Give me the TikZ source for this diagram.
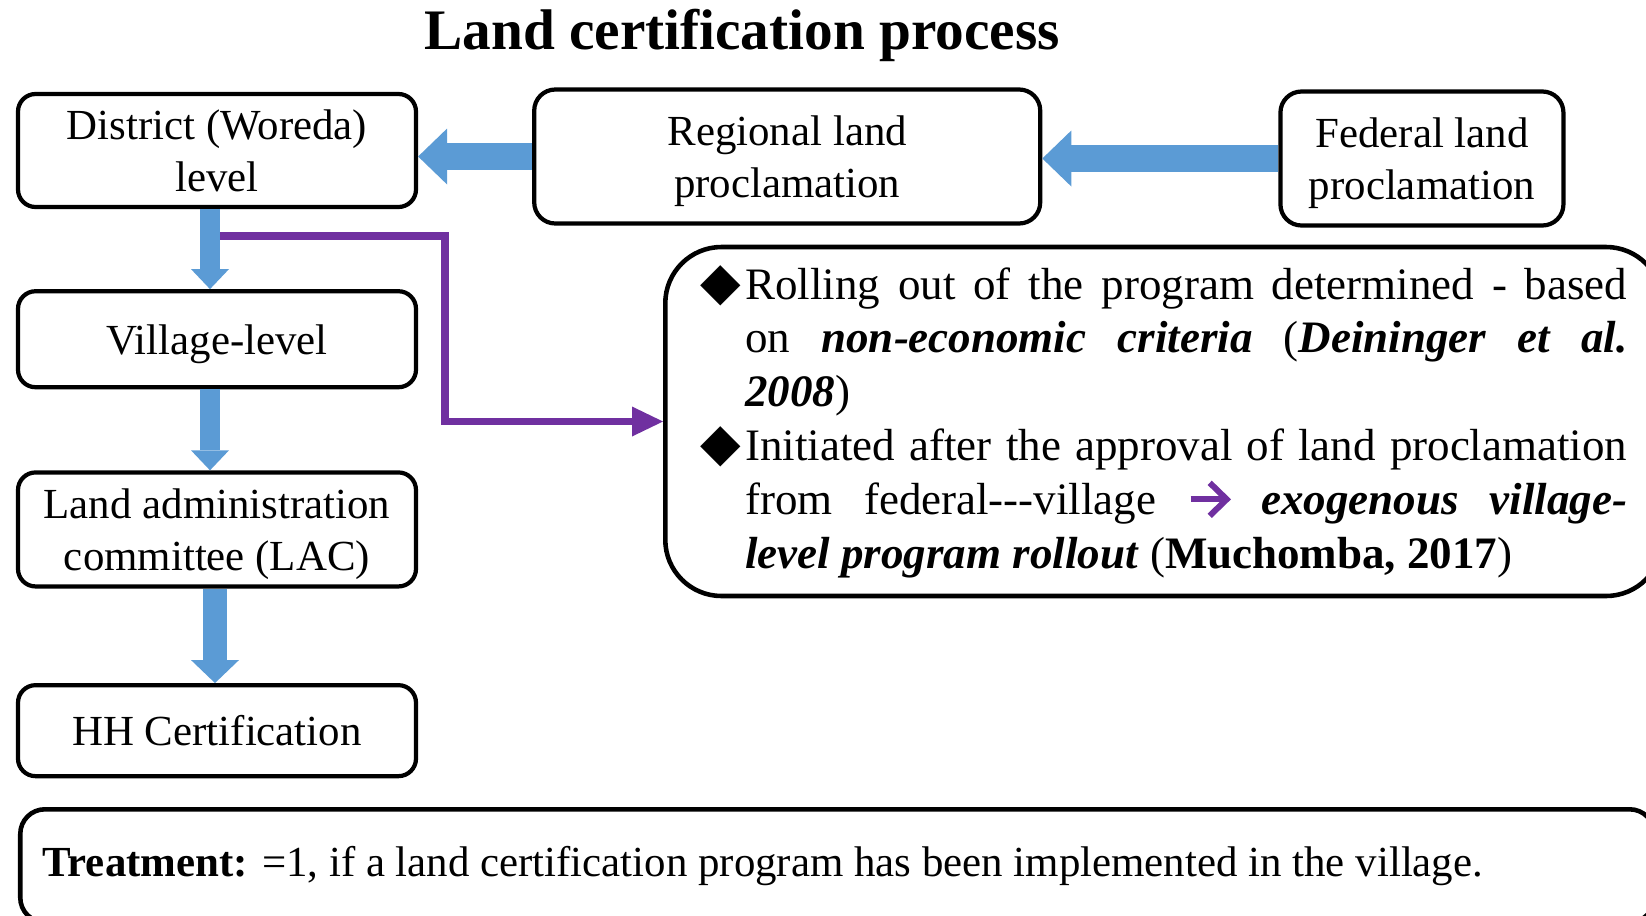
\documentclass[tikz,border=0pt]{standalone}
\usepackage{fontspec}
\setmainfont{Liberation Serif}
\newfontfamily\symfont{DejaVu Sans}
\usepackage{tikz}
\usetikzlibrary{arrows.meta,positioning,calc}
\usepackage{xcolor}
\definecolor{flowblue}{HTML}{5B9BD5}
\definecolor{linkpurple}{HTML}{7030A0}
\newcommand{\bulletmark}{{\symfont\fontsize{15}{15}\selectfont ◆}}
\newcommand{\pointsto}{\tikz[baseline={(0,-0.15)}, sharp corners]{%
  \draw[linkpurple, line width=0.06cm] (0,0) -- (0.35,0);
  \draw[linkpurple, line width=0.06cm, line join=miter] (0.19,0.165) -- (0.36,0) -- (0.19,-0.165);}}

\begin{document}
\begin{tikzpicture}[
  level/.style={rectangle, rounded corners=5pt, draw=black, line width=1.2pt,
                minimum width=3.98cm, inner sep=0pt, align=center, text depth=0pt,
                font=\fontsize{12.2}{14.8}\selectfont},
  procl/.style={level, rounded corners=6pt, minimum height=1.34cm},
  panel/.style={rectangle, draw=black, line width=1.3pt},
  flow/.style n args={3}{line width=#1, flowblue,
                -{Triangle[length=#2, width=#3, line width=0pt]}},
  link/.style={line width=0.075cm, linkpurple,
               -{Triangle[length=0.31cm, width=0.30cm, line width=0pt]}},
]
  \path[use as bounding box, clip] (0,0) rectangle (16.46,-9.15);

  \node[font=\bfseries\fontsize{16.3}{19}\selectfont, anchor=base] (title) at (7.42,-0.49) {Land certification process};

  % left column
  \node[level, minimum height=1.13cm] (dist) at (2.17,-1.505) {District (Woreda)\\level};
  \node[level, minimum height=0.96cm, below=0.80cm of dist] (vil) {Village-level};
  \node[level, minimum height=1.14cm, below=0.81cm of vil] (lac) {Land administration\\committee (LAC)};
  \node[level, minimum height=0.91cm, below=0.945cm of lac] (hh) {HH Certification};

  % top row
  \node[procl, minimum width=5.06cm, right=1.14cm of dist, yshift=-0.06cm] (reg) {Regional land\\proclamation};
  \node[procl, minimum width=2.83cm, right=2.36cm of reg, yshift=-0.02cm] (fed) {Federal land\\proclamation};

  \draw[flow={0.27cm}{0.29cm}{0.56cm}] (reg.west) -- (reg.west -| dist.east);
  \draw[flow={0.27cm}{0.29cm}{0.56cm}] (fed.west) -- (fed.west -| reg.east);
  \draw[flow={0.20cm}{0.20cm}{0.38cm}] ([xshift=-0.07cm]dist.south) -- ([xshift=-0.07cm]vil.north);
  \draw[flow={0.20cm}{0.20cm}{0.38cm}] ([xshift=-0.07cm]vil.south) -- ([xshift=-0.07cm]lac.north);
  \draw[flow={0.24cm}{0.23cm}{0.48cm}] ([xshift=-0.02cm]lac.south) -- ([xshift=-0.02cm]hh.north);

  % notes
  \node[panel, rounded corners=16pt, anchor=west, text width=9.27cm, inner xsep=0.35cm,
        minimum height=3.49cm, align=justify, font=\fontsize{12.8}{15.3}\selectfont] (info) at (6.63,-4.215)
    {\noindent\hangindent=0.45cm\hangafter=1\makebox[0.45cm][l]{\bulletmark}Rolling out of the program determined - based\linebreak on \textbf{\textit{non-economic criteria}} (\textbf{\textit{Deininger et al.}}\linebreak \textbf{\textit{2008}})\par
     \noindent\hangindent=0.45cm\hangafter=1\makebox[0.45cm][l]{\bulletmark}Initiated after the approval of land proclamation\linebreak from federal\mbox{-}\mbox{-}\mbox{-}village \pointsto{} \textbf{\textit{exogenous village-}\linebreak\textit{level program rollout}} (\textbf{Muchomba, 2017})\par};

  \coordinate (tap) at ($(dist.south)+(0.03,-0.27)$);
  \draw[link] (tap) -- ++(2.25,0) |- (info.west);

  \node[panel, rounded corners=7pt, anchor=north west, minimum width=16.34cm, minimum height=1.13cm,
        text width=15.90cm, inner xsep=0.22cm, align=justify, font=\fontsize{12.2}{14.3}\selectfont] (treat) at (0.18,-8.07)
    {\textbf{Treatment:} =1, if a land certification program has been implemented in the village.\par};
\end{tikzpicture}
\end{document}
